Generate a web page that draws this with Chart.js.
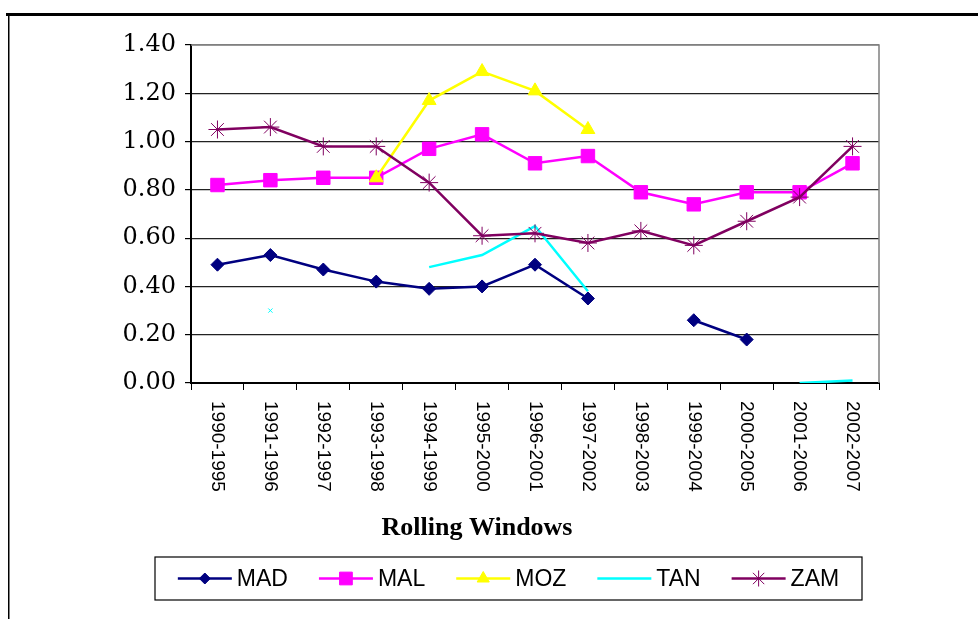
<!DOCTYPE html>
<html>
<head>
<meta charset="utf-8">
<script src="https://cdn.jsdelivr.net/npm/chart.js@4/dist/chart.umd.min.js"></script>
<style>
  html, body { margin: 0; padding: 0; background: #fff; }
  #chart { display: block; }
</style>
</head>
<body>
<canvas id="chart" width="978" height="619"></canvas>
<script>
// Rolling windows (categories)
const windows = ['1990-1995', '1991-1996', '1992-1997', '1993-1998', '1994-1999', '1995-2000',
  '1996-2001', '1997-2002', '1998-2003', '1999-2004', '2000-2005', '2001-2006', '2002-2007'];

// Series values (null = no value)
const mad = [0.49, 0.53, 0.47, 0.42, 0.39, 0.40, 0.49, 0.35, null, 0.26, 0.18, null, null];
const mal = [0.82, 0.84, 0.85, 0.85, 0.97, 1.03, 0.91, 0.94, 0.79, 0.74, 0.79, 0.79, 0.91];
const moz = [null, null, null, 0.85, 1.17, 1.29, 1.21, 1.05, null, null, null, null, null];
const tan = [null, 0.30, null, null, 0.48, 0.53, 0.65, 0.38, null, null, null, 0.00, 0.01];
const zam = [1.05, 1.06, 0.98, 0.98, 0.83, 0.61, 0.62, 0.58, 0.63, 0.57, 0.67, 0.77, 0.98];

const yMin = 0, yMax = 1.4, yStep = 0.2;
const xTitle = 'Rolling Windows';

const ctx = document.getElementById('chart').getContext('2d');

// page frame, plot border, rotated category labels, axis title and boxed legend
const extras = {
  id: 'extras',
  beforeDraw(chart) {
    const c = chart.ctx;
    c.save();
    c.fillStyle = '#fff';
    c.fillRect(0, 0, chart.width, chart.height);
    c.fillStyle = '#000';
    c.fillRect(6, 13, chart.width - 6, 3);
    c.fillRect(8, 13, 1.5, chart.height - 13);
    c.restore();
  },
  afterDraw(chart) {
    const c = chart.ctx;
    const a = chart.chartArea;
    const xs = chart.scales.x;
    c.save();

    // grey plot border on top and right
    c.strokeStyle = '#808080';
    c.lineWidth = 1.5;
    c.beginPath();
    c.moveTo(a.left, a.top);
    c.lineTo(a.right, a.top);
    c.lineTo(a.right, a.bottom);
    c.stroke();

    // category labels, turned to read top to bottom
    c.fillStyle = '#000';
    c.font = '19px "Liberation Sans", Arial, sans-serif';
    c.textAlign = 'left';
    c.textBaseline = 'middle';
    windows.forEach((w, i) => {
      c.save();
      c.translate(xs.getPixelForValue(i), a.bottom + 18);
      c.rotate(Math.PI / 2);
      c.fillText(w, 0, 0);
      c.restore();
    });

    // axis title
    c.font = 'bold 26px "Liberation Serif", "Times New Roman", serif';
    c.textAlign = 'center';
    c.fillText(xTitle, 477, 528);

    // legend box
    const box = { left: 155, top: 557, right: 862, bottom: 600 };
    c.strokeStyle = '#000';
    c.lineWidth = 1.2;
    c.strokeRect(box.left, box.top, box.right - box.left, box.bottom - box.top);
    c.font = '23px "Liberation Sans", Arial, sans-serif';
    c.textAlign = 'left';
    const sample = 54, gap = 5, spacing = 31;
    const items = chart.data.datasets;
    let total = 0;
    items.forEach(d => { total += sample + gap + c.measureText(d.label).width; });
    total += spacing * (items.length - 1);
    let x = (box.left + box.right) / 2 - total / 2;
    const cy = (box.top + box.bottom) / 2;
    items.forEach(d => {
      c.strokeStyle = d.borderColor;
      c.lineWidth = d.borderWidth;
      c.beginPath();
      c.moveTo(x, cy);
      c.lineTo(x + sample, cy);
      c.stroke();
      if (d.legendMarker) {
        c.fillStyle = d.backgroundColor;
        c.strokeStyle = d.borderColor;
        c.lineWidth = d.pointBorderWidth || 1;
        Chart.helpers.drawPoint(c, {
          pointStyle: d.pointStyle, radius: d.legendMarker,
          borderWidth: d.pointBorderWidth || 1, rotation: 0
        }, x + sample / 2, cy);
      }
      c.fillStyle = '#000';
      c.fillText(d.label, x + sample + gap, cy + 1);
      x += sample + gap + c.measureText(d.label).width + spacing;
    });
    c.restore();
  }
};

new Chart(ctx, {
  type: 'line',
  data: {
    labels: windows,
    datasets: [
      {
        label: 'MAD', data: mad, order: 5,
        borderColor: '#000080', backgroundColor: '#000080', borderWidth: 2.5,
        pointStyle: 'rectRot', pointRadius: 6.5, pointBorderWidth: 1, legendMarker: 5.5
      },
      {
        label: 'MAL', data: mal, order: 4,
        borderColor: '#ff00ff', backgroundColor: '#ff00ff', borderWidth: 2.5,
        pointStyle: 'rect', pointRadius: 9.5, pointBorderWidth: 1, legendMarker: 9
      },
      {
        label: 'MOZ', data: moz, order: 3,
        borderColor: '#ffff00', backgroundColor: '#ffff00', borderWidth: 2.5,
        pointStyle: 'triangle', pointRadius: 8, pointBorderWidth: 1, legendMarker: 7
      },
      {
        label: 'TAN', data: tan, order: 2,
        borderColor: '#00ffff', backgroundColor: '#00ffff', borderWidth: 2.5,
        pointStyle: 'crossRot', pointRadius: tan.map((v, i) => (i === 1 ? 3 : 0)), pointBorderWidth: 1
      },
      {
        label: 'ZAM', data: zam, order: 1,
        borderColor: '#800060', backgroundColor: '#800060', borderWidth: 2.5,
        pointStyle: 'star', pointRadius: 9, pointBorderWidth: 1, legendMarker: 8
      }
    ]
  },
  options: {
    responsive: false,
    animation: false,
    spanGaps: false,
    layout: { padding: { top: 45, right: 99, left: 0, bottom: 0 } },
    plugins: { legend: { display: false }, tooltip: { enabled: false } },
    scales: {
      x: {
        offset: true,
        afterFit: s => { s.height = 236; },
        border: { display: true, color: '#000', width: 2 },
        grid: { offset: true, drawOnChartArea: false, drawTicks: true, tickLength: 7, color: '#000', tickColor: '#000' },
        ticks: { display: false }
      },
      y: {
        min: yMin, max: yMax,
        afterFit: s => { s.width = 191; },
        border: { display: true, color: '#000', width: 2 },
        grid: {
          color: c => (c.tick && c.tick.value >= yMax - 1e-9 ? '#808080' : '#222'),
          lineWidth: 1.2, tickLength: 6, tickColor: '#000'
        },
        ticks: {
          stepSize: yStep, padding: 9, color: '#000',
          font: { family: '"DejaVu Serif", serif', size: 24 },
          callback: v => v.toFixed(2)
        }
      }
    }
  },
  plugins: [extras]
});
</script>
</body>
</html>
